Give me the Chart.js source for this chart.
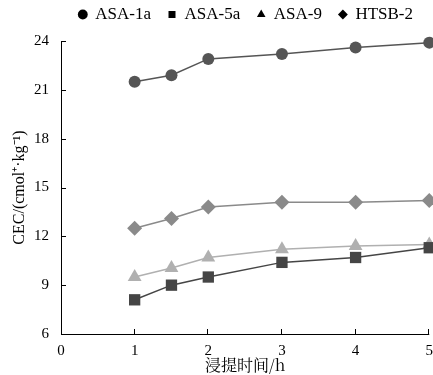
<!DOCTYPE html>
<html>
<head>
<meta charset="utf-8">
<script src="https://cdn.jsdelivr.net/npm/chart.js@4/dist/chart.umd.min.js"></script>
<style>
  html, body { margin: 0; padding: 0; background: #fff; }
  #wrap { width: 433px; height: 375px; }
</style>
</head>
<body>
<div id="wrap"><canvas id="cec"></canvas></div>
<script>
// Extraction time (h)
const hours = [1, 1.5, 2, 3, 4, 5];
// CEC values, cmol+/kg
const asa1a = [21.5, 21.9, 22.9, 23.2, 23.6, 23.9];
const asa5a = [8.1, 9.0, 9.5, 10.4, 10.7, 11.3];
const asa9 = [9.5, 10.05, 10.7, 11.2, 11.4, 11.5];
const htsb2 = [12.5, 13.1, 13.8, 14.1, 14.1, 14.2];

const yTicks = [6, 9, 12, 15, 18, 21, 24];
const xTicks = [0, 1, 2, 3, 4, 5];

const FONT = '"Liberation Serif", "Times New Roman", serif';

function toPoints(ys) {
    return hours.map((h, i) => ({ x: h, y: ys[i] }));
}

function series(label, ys, color, style, radius) {
    return {
        label: label,
        data: toPoints(ys),
        borderColor: color,
        backgroundColor: color,
        borderWidth: 1.5,
        pointStyle: style,
        pointRadius: radius,
        pointBorderWidth: 0,
        clip: false
    };
}

// ticks pointing into the plot area, like the original figure
const inwardTicks = {
    id: 'inwardTicks',
    afterDraw(chart) {
        const { ctx, chartArea, scales } = chart;
        ctx.save();
        ctx.strokeStyle = '#000';
        ctx.lineWidth = 1;
        ctx.beginPath();
        // axis lines
        ctx.moveTo(chartArea.left + 0.5, chartArea.top);
        ctx.lineTo(chartArea.left + 0.5, chartArea.bottom + 0.5);
        ctx.lineTo(chartArea.right, chartArea.bottom + 0.5);
        yTicks.forEach(v => {
            const y = Math.round(scales.y.getPixelForValue(v)) + 0.5;
            ctx.moveTo(chartArea.left, y);
            ctx.lineTo(chartArea.left + 5, y);
        });
        xTicks.forEach(v => {
            if (v === 0) return;
            const x = Math.round(scales.x.getPixelForValue(v)) - 0.5;
            ctx.moveTo(x, chartArea.bottom);
            ctx.lineTo(x, chartArea.bottom - 5);
        });
        ctx.stroke();
        ctx.restore();
    }
};

// a bit of extra room under the legend
const legendGap = {
    id: 'legendGap',
    beforeInit(chart) {
        const fit = chart.legend.fit;
        chart.legend.fit = function () {
            fit.call(this);
            this.height += 8;
        };
    }
};

new Chart(document.getElementById('cec'), {
    type: 'line',
    data: {
        datasets: [
            series('ASA-1a', asa1a, '#555555', 'circle', 6),
            series('ASA-5a', asa5a, '#454545', 'rect', 8),
            series('ASA-9', asa9, '#b0b0b0', 'triangle', 8),
            series('HTSB-2', htsb2, '#8a8a8a', 'rectRot', 7.5)
        ]
    },
    options: {
        responsive: true,
        maintainAspectRatio: false,
        animation: false,
        layout: { autoPadding: false, padding: { left: 0, right: 3, top: -11, bottom: 0 } },
        plugins: {
            tooltip: { enabled: false },
            legend: {
                position: 'top',
                align: 'end',
                labels: {
                    usePointStyle: true,
                    boxWidth: 8,
                    boxHeight: 7,
                    padding: 17,
                    color: '#000',
                    font: { family: FONT, size: 17 },
                    generateLabels(chart) {
                        return chart.data.datasets.map((ds, i) => ({
                            text: ds.label,
                            fillStyle: '#000',
                            strokeStyle: '#000',
                            lineWidth: 0,
                            pointStyle: ds.pointStyle,
                            datasetIndex: i
                        }));
                    }
                }
            }
        },
        scales: {
            x: {
                type: 'linear',
                min: 0,
                max: 5,
                afterBuildTicks(scale) { scale.ticks = xTicks.map(v => ({ value: v })); },
                afterFit(scale) { scale.height = 41; },
                grid: { display: false },
                border: { display: false },
                ticks: { color: '#000', padding: 0, font: { family: FONT, size: 15 } },
                title: {
                    display: true,
                    text: '浸提时间/h',
                    color: '#000',
                    padding: { top: 0, bottom: 0 },
                    font: { family: '"Noto Serif CJK SC", "Noto Sans CJK SC", ' + FONT, size: 16 }
                }
            },
            y: {
                min: 6,
                max: 24,
                afterBuildTicks(scale) { scale.ticks = yTicks.map(v => ({ value: v })); },
                afterFit(scale) { scale.width = 61; },
                grid: { display: false },
                border: { display: false },
                ticks: { color: '#000', padding: 4, font: { family: FONT, size: 15 } },
                title: {
                    display: true,
                    text: 'CEC/(cmol⁺·kg⁻¹)',
                    color: '#000',
                    padding: { top: 10, bottom: 0 },
                    font: { family: FONT, size: 16 }
                }
            }
        }
    },
    plugins: [inwardTicks, legendGap]
});
</script>
</body>
</html>
